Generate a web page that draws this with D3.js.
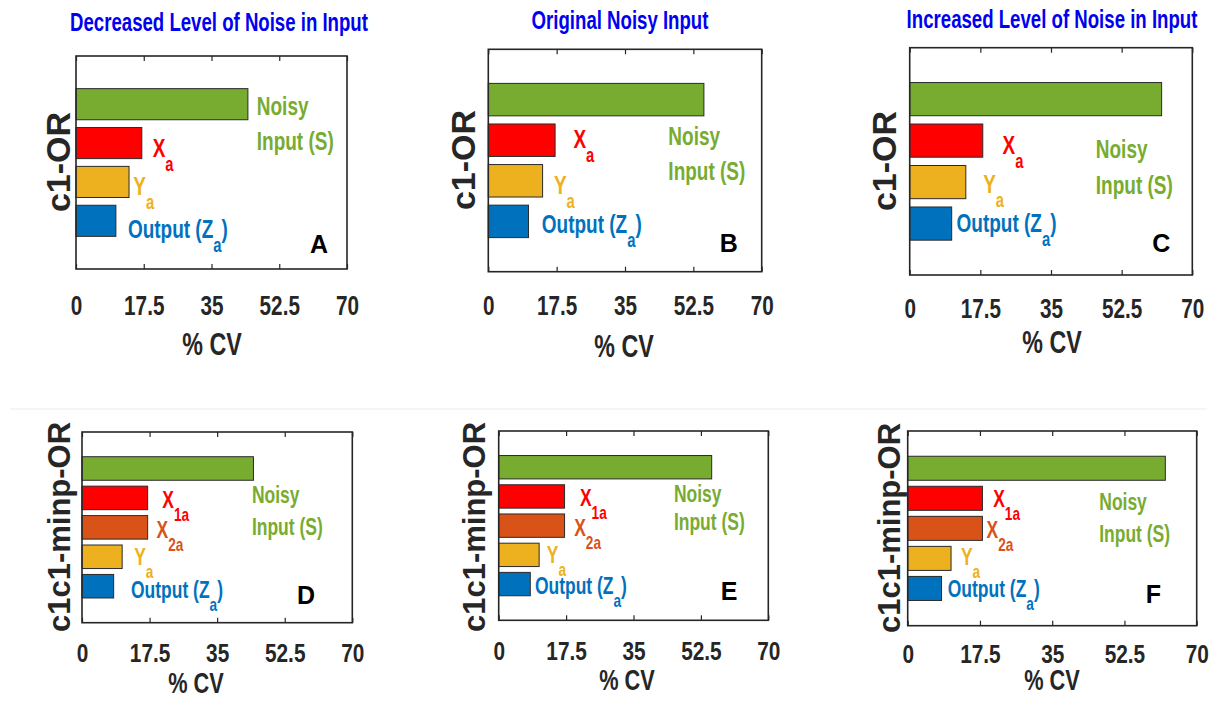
<!DOCTYPE html>
<html>
<head>
<meta charset="utf-8">
<script src="https://cdn.jsdelivr.net/npm/d3@7"></script>
<style>
  body { margin: 0; background: #fff; }
  svg { display: block; }
</style>
</head>
<body>
<svg width="1217" height="708"></svg>
<script>
// categories (top row = c1-OR, bottom row = c1c1-minp-OR)
const catsTop = ['Noisy Input (S)', 'Xa', 'Ya', 'Output (Za)'];
const catsBottom = ['Noisy Input (S)', 'X1a', 'X2a', 'Ya', 'Output (Za)'];

// % CV values
const cvTopDecreased = [44.4, 17.0, 13.7, 10.3];
const cvTopOriginal = [55.2, 17.1, 13.9, 10.3];
const cvTopIncreased = [62.4, 18.1, 13.9, 10.4];
const cvBottomDecreased = [44.4, 17.0, 17.0, 10.4, 8.2];
const cvBottomOriginal = [55.3, 17.1, 17.1, 10.5, 8.2];
const cvBottomIncreased = [62.4, 18.1, 18.1, 10.5, 8.2];

const xTicks = [0, 17.5, 35, 52.5, 70];
const titles = ['Decreased Level of Noise in Input', 'Original Noisy Input', 'Increased Level of Noise in Input'];

const colors = {
  'Noisy Input (S)': '#77AC30',
  'Xa': '#FF0000', 'X1a': '#FF0000',
  'X2a': '#D95319',
  'Ya': '#EDB120',
  'Output (Za)': '#0072BD'
};

// layout of each panel (pixels) and where its labels go (x in %CV units, y = baseline px)
const panels = [
  { letter: 'A', cats: catsTop, values: cvTopDecreased, box: [76, 56, 347, 269], ylab: 'c1-OR', ylabPos: [58, 162],
    tickBase: 315, cvPos: [212, 355], fs: 25, title: [titles[0], 219, 31, 298],
    lab: { noisy: [46.7, 115], input: [46.7, 150], Xa: [19.8, 157], Ya: [14.8, 195], Out: [13.4, 238], letter: [62.8, 253] } },
  { letter: 'B', cats: catsTop, values: cvTopOriginal, box: [488.3, 49.3, 761.7, 271.7], ylab: 'c1-OR', ylabPos: [463, 160],
    tickBase: 315, cvPos: [624, 357], fs: 25, title: [titles[1], 620, 29, 177],
    lab: { noisy: [46.1, 145], input: [46.1, 180], Xa: [21.8, 148], Ya: [16.8, 194], Out: [13.7, 233], letter: [61.6, 252] } },
  { letter: 'C', cats: catsTop, values: cvTopIncreased, box: [909.7, 47.7, 1192.3, 275], ylab: 'c1-OR', ylabPos: [884, 161],
    tickBase: 318, cvPos: [1052, 353], fs: 25, title: [titles[2], 1052, 28, 291],
    lab: { noisy: [46.1, 158], input: [46.1, 194], Xa: [23.0, 154], Ya: [18.2, 193], Out: [11.6, 232], letter: [62.3, 252] } },
  { letter: 'D', cats: catsBottom, values: cvBottomDecreased, box: [82, 432, 352.3, 622.7], ylab: 'c1c1-minp-OR', ylabPos: [59, 527],
    tickBase: 662, cvPos: [196, 693], fs: 23,
    lab: { noisy: [44.0, 503], input: [44.0, 535], X1a: [20.8, 508], X2a: [19.3, 538], Ya: [13.5, 565], Out: [12.7, 598], letter: [58, 604] } },
  { letter: 'E', cats: catsBottom, values: cvBottomOriginal, box: [498.7, 431, 768.3, 620.3], ylab: 'c1c1-minp-OR', ylabPos: [474, 527],
    tickBase: 660, cvPos: [627, 690], fs: 23,
    lab: { noisy: [45.5, 502], input: [45.5, 530], X1a: [21.1, 506], X2a: [19.6, 536], Ya: [12.5, 563], Out: [9.4, 594], letter: [59.8, 600] } },
  { letter: 'F', cats: catsBottom, values: cvBottomIncreased, box: [907.7, 431, 1196.7, 625.7], ylab: 'c1c1-minp-OR', ylabPos: [889, 528],
    tickBase: 663, cvPos: [1052, 690], fs: 23,
    lab: { noisy: [46.4, 510], input: [46.4, 542], X1a: [20.7, 507], X2a: [19.1, 538], Ya: [12.9, 565], Out: [9.7, 597], letter: [59.5, 603] } }
];

const svg = d3.select('svg');
const ink = '#262626';
const FONT = '"Liberation Sans", Arial, Helvetica, sans-serif';
const SX = 0.76; // squeeze to imitate a narrow face

// faint seam between the two rows
svg.append('line').attr('x1', 10).attr('x2', 1207).attr('y1', 409).attr('y2', 409)
  .attr('stroke', '#f2f2f2').attr('stroke-width', 1.5);

function ntext(g, x, y, fs, color, sx) {
  return g.append('text')
    .attr('transform', `translate(${x},${y}) scale(${sx || SX},1)`)
    .attr('font-family', FONT).attr('font-weight', 'bold')
    .attr('font-size', fs).attr('fill', color);
}

function subLabel(g, x, y, main, sub, tail, color, fs) {
  const t = ntext(g, x, y, fs, color);
  t.append('tspan').text(main);
  t.append('tspan').attr('dy', fs * 0.55).attr('font-size', fs * 0.78).text(sub);
  if (tail) t.append('tspan').attr('dy', -fs * 0.55).text(tail);
}

panels.forEach(p => {
  const [l, t, r, b] = p.box;
  const g = svg.append('g');
  const top4 = p.cats.length === 4;

  const x = d3.scaleLinear().domain([0, 70]).range([l, r]);
  const y = d3.scaleBand().domain(p.cats).range([t, b]).paddingInner(0.2).paddingOuter(0.84);

  // bars
  g.selectAll('.bar')
    .data(p.cats.map((c, i) => ({ cat: c, v: p.values[i] })))
    .enter()
    .append('rect')
    .attr('class', 'bar')
    .attr('x', x(0))
    .attr('y', d => y(d.cat))
    .attr('width', d => x(d.v) - x(0))
    .attr('height', y.bandwidth())
    .attr('fill', d => colors[d.cat])
    .attr('stroke', '#2a2a2a')
    .attr('stroke-width', 1);

  // bottom axis with labels, top axis ticks only
  const bot = g.append('g')
    .attr('transform', `translate(0,${b})`)
    .call(d3.axisBottom(x).tickValues(xTicks).tickFormat(d => String(d))
      .tickSizeInner(-5).tickSizeOuter(0).tickPadding(0));
  bot.select('.domain').remove();
  bot.selectAll('line').attr('stroke', ink).attr('stroke-width', 1.2);
  bot.selectAll('text')
    .attr('y', null).attr('dy', null)
    .attr('transform', `translate(0,${p.tickBase - b}) scale(${top4 ? 0.74 : 0.8},1)`)
    .attr('font-family', FONT).attr('font-weight', 'bold')
    .attr('font-size', top4 ? 28 : 26)
    .attr('fill', ink);

  const topAx = g.append('g')
    .attr('transform', `translate(0,${t})`)
    .call(d3.axisTop(x).tickValues(xTicks).tickFormat('').tickSizeInner(-5).tickSizeOuter(0));
  topAx.select('.domain').remove();
  topAx.selectAll('line').attr('stroke', ink).attr('stroke-width', 1.2);

  // frame
  g.append('rect').attr('x', l).attr('y', t).attr('width', r - l).attr('height', b - t)
    .attr('fill', 'none').attr('stroke', ink).attr('stroke-width', 1.6);

  // axis titles
  ntext(g, p.cvPos[0], p.cvPos[1], top4 ? 31 : 29, ink, 0.75)
    .attr('text-anchor', 'middle').text('% CV');

  g.append('text')
    .attr('transform', `translate(${p.ylabPos[0]},${p.ylabPos[1]}) rotate(-90)`)
    .attr('text-anchor', 'middle').attr('dominant-baseline', 'central')
    .attr('font-family', FONT).attr('font-weight', 'bold')
    .attr('font-size', top4 ? 34 : 31).attr('fill', ink).text(p.ylab);

  // bar labels
  const L = p.lab, fs = p.fs;
  ntext(g, x(L.noisy[0]), L.noisy[1], fs, colors['Noisy Input (S)']).text('Noisy');
  ntext(g, x(L.input[0]), L.input[1], fs, colors['Noisy Input (S)']).text('Input (S)');
  if (L.Xa) subLabel(g, x(L.Xa[0]), L.Xa[1], 'X', 'a', null, colors['Xa'], fs);
  if (L.X1a) subLabel(g, x(L.X1a[0]), L.X1a[1], 'X', '1a', null, colors['X1a'], fs);
  if (L.X2a) subLabel(g, x(L.X2a[0]), L.X2a[1], 'X', '2a', null, colors['X2a'], fs);
  subLabel(g, x(L.Ya[0]), L.Ya[1], 'Y', 'a', null, colors['Ya'], fs);
  subLabel(g, x(L.Out[0]), L.Out[1], 'Output (Z', 'a', ')', colors['Output (Za)'], fs);

  g.append('text').attr('x', x(L.letter[0])).attr('y', L.letter[1])
    .attr('text-anchor', 'middle')
    .attr('font-family', FONT).attr('font-weight', 'bold')
    .attr('font-size', 25).attr('fill', '#000').text(p.letter);

  if (p.title) {
    const tt = g.append('text')
      .attr('font-family', FONT).attr('font-weight', 'bold')
      .attr('font-size', 25).attr('fill', '#0000F0')
      .attr('text-anchor', 'middle')
      .text(p.title[0]);
    const w = tt.node().getComputedTextLength();
    tt.attr('transform', `translate(${p.title[1]},${p.title[2]}) scale(${p.title[3] / w},1)`);
  }
});
</script>
</body>
</html>
